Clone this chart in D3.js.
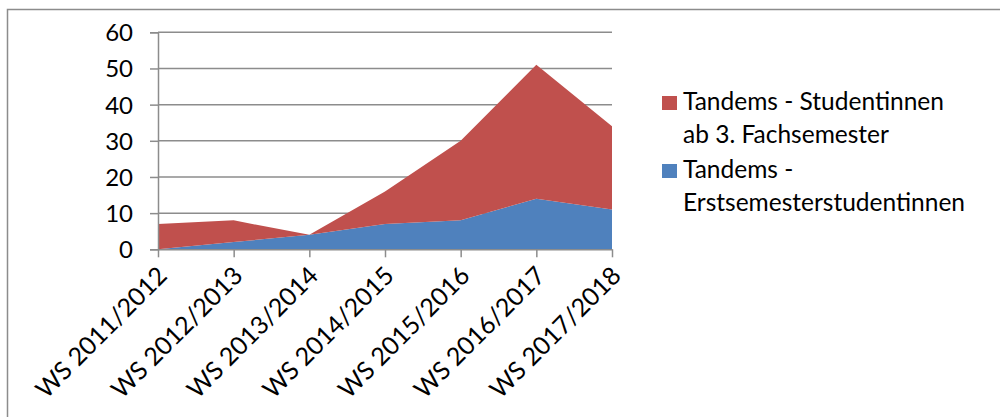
<!DOCTYPE html>
<html>
<head>
<meta charset="utf-8">
<style>
  body { margin: 0; background: #fff; }
  text { font-family: Lato, "Open Sans", sans-serif; fill: #000; }
</style>
</head>
<body>
<svg width="1000" height="417"></svg>
<script src="https://d3js.org/d3.v7.min.js"></script>
<script>
  var semesters = ["WS 2011/2012", "WS 2012/2013", "WS 2013/2014", "WS 2014/2015", "WS 2015/2016", "WS 2016/2017", "WS 2017/2018"];
  var erstsemester = [0, 2, 4, 7, 8, 14, 11];
  var abDrittem = [7, 6, 0, 9, 22, 37, 23];
  var yTicks = [0, 10, 20, 30, 40, 50, 60];

  var svg = d3.select("svg");

  // outer frame (runs off right/bottom)
  svg.append("rect")
    .attr("x", 7.5).attr("y", 9.5)
    .attr("width", 1100).attr("height", 500)
    .attr("fill", "none").attr("stroke", "#8c8c8c").attr("stroke-width", 1.5);

  var plot = { left: 158, right: 612, top: 32.3, bottom: 249.3 };

  var x = d3.scalePoint().domain(semesters).range([plot.left, plot.right]);
  var y = d3.scaleLinear().domain([0, 60]).range([plot.bottom, plot.top]);

  var table = semesters.map(function(s, i) {
    return { sem: s, erst: erstsemester[i], ab3: abDrittem[i] };
  });
  var series = d3.stack().keys(["erst", "ab3"])(table);
  var colors = { erst: "#4f81bd", ab3: "#c0504d" };

  // gridlines
  svg.append("g").selectAll("line")
    .data(yTicks.slice(1))
    .join("line")
    .attr("x1", plot.left).attr("x2", plot.right)
    .attr("y1", function(d) { return y(d); }).attr("y2", function(d) { return y(d); })
    .attr("stroke", "#8c8c8c").attr("stroke-width", 1.5);

  var area = d3.area()
    .x(function(d) { return x(d.data.sem); })
    .y0(function(d) { return y(d[0]); })
    .y1(function(d) { return y(d[1]); });

  svg.append("g").selectAll("path")
    .data(series)
    .join("path")
    .attr("fill", function(d) { return colors[d.key]; })
    .attr("d", area);

  // y axis
  var yAxis = d3.axisLeft(y).tickValues(yTicks).tickSize(8).tickPadding(17);
  var gy = svg.append("g").attr("transform", "translate(" + plot.left + ",0)").call(yAxis);
  gy.select(".domain").attr("stroke", "#8c8c8c").attr("stroke-width", 1.5);
  gy.selectAll(".tick line").attr("stroke", "#8c8c8c").attr("stroke-width", 1.5);
  gy.selectAll("text").attr("font-size", 24).attr("font-family", "Lato").attr("fill", "#000").attr("dy", "0.35em");

  // x axis
  var xAxis = d3.axisBottom(x).tickSize(8).tickSizeOuter(0);
  var gx = svg.append("g").attr("transform", "translate(0," + plot.bottom + ")").call(xAxis);
  gx.select(".domain").attr("stroke", "#8c8c8c").attr("stroke-width", 1.5);
  gx.selectAll(".tick line").attr("stroke", "#8c8c8c").attr("stroke-width", 1.5);
  gx.selectAll("text")
    .attr("font-size", 25).attr("font-family", "Lato").attr("fill", "#000")
    .attr("text-anchor", "end")
    .attr("dy", 0).attr("y", 0)
    .attr("transform", "translate(10,28) rotate(-45)");

  // legend
  var legend = [
    { key: "ab3", lines: ["Tandems - Studentinnen", "ab 3. Fachsemester"], y: 110 },
    { key: "erst", lines: ["Tandems -", "Erstsemesterstudentinnen"], y: 178 }
  ];
  var lg = svg.append("g").selectAll("g").data(legend).join("g");
  lg.append("rect")
    .attr("x", 662).attr("y", function(d) { return d.y - 14; })
    .attr("width", 15).attr("height", 14)
    .attr("fill", function(d) { return colors[d.key]; });
  lg.append("text")
    .attr("x", 683).attr("y", function(d) { return d.y; })
    .attr("font-size", 24.5)
    .selectAll("tspan").data(function(d) { return d.lines; })
    .join("tspan")
    .attr("x", 683).attr("dy", function(d, i) { return i ? 33 : 0; })
    .text(function(d) { return d; });
</script>
</body>
</html>
